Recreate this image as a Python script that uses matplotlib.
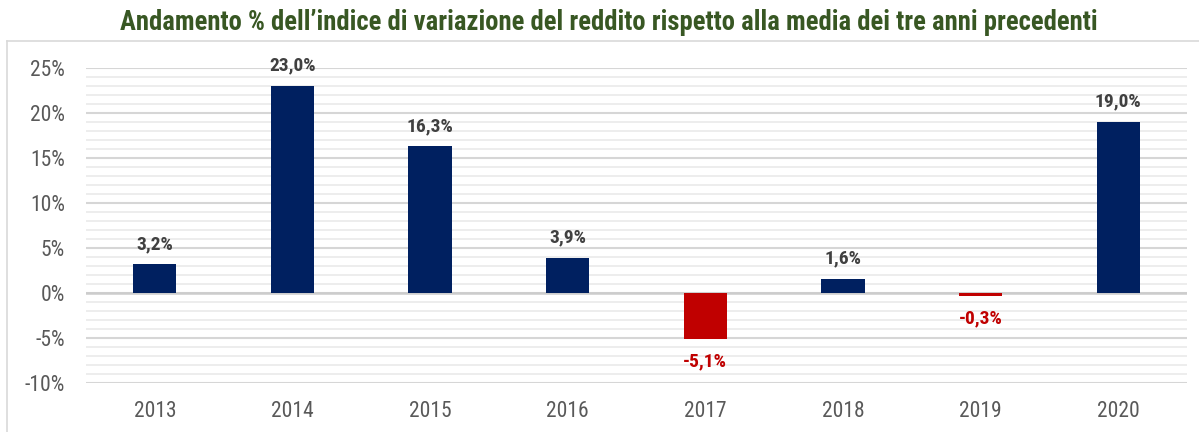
import matplotlib
matplotlib.use("Agg")
import matplotlib.pyplot as plt
from matplotlib.ticker import MultipleLocator, FuncFormatter
from matplotlib import font_manager
from matplotlib.lines import Line2D

names = {f.name for f in font_manager.fontManager.ttflist}
FONT = "Roboto Condensed" if "Roboto Condensed" in names else "DejaVu Sans"

years = ["2013", "2014", "2015", "2016", "2017", "2018", "2019", "2020"]
values = [3.2, 23.0, 16.3, 3.9, -5.1, 1.6, -0.3, 19.0]
title = "Andamento % dell\u2019indice di variazione del reddito rispetto alla media dei tre anni precedenti"

NAVY = "#002060"
RED = "#C00000"

plt.rcParams["font.family"] = [FONT, "DejaVu Sans"]

fig = plt.figure(figsize=(11.99, 4.32), dpi=100)
ax = fig.add_axes([86/1199, (432-383)/432, (1187-86)/1199, 315/432])

x = list(range(len(years)))
colors = [NAVY if v >= 0 else RED for v in values]
ax.bar(x, values, width=0.315, color=colors, zorder=3)

ax.set_xlim(-0.5, len(years)-0.5)
ax.set_ylim(-10, 25)
ax.yaxis.set_major_locator(MultipleLocator(5))
ax.yaxis.set_minor_locator(MultipleLocator(1))
ax.yaxis.set_major_formatter(FuncFormatter(lambda v, p: f"{v:.0f}%"))
ax.grid(axis="y", which="minor", color="#ececec", linewidth=1.3, zorder=0)
ax.grid(axis="y", which="major", color="#d6d6d6", linewidth=1.5, zorder=1)
ax.axhline(0, color="#cccccc", linewidth=1.8, zorder=2)
for s in ax.spines.values():
    s.set_visible(False)
ax.tick_params(axis="both", which="both", length=0, labelsize=15.5, labelcolor="#595959")
ax.tick_params(axis="y", pad=15)
ax.tick_params(axis="x", pad=13)
ax.set_xticks(x)
ax.set_xticklabels(years)

for xi, v, c in zip(x, values, colors):
    lab = f"{v:.1f}%".replace(".", ",")
    if v >= 0:
        ax.annotate(lab, (xi, v), xytext=(0, 8), textcoords="offset points",
                    ha="center", va="bottom", fontsize=14, fontweight="bold", color="#404040")
    else:
        ax.annotate(lab, (xi, v), xytext=(0, -10), textcoords="offset points",
                    ha="center", va="top", fontsize=14, fontweight="bold", color=RED)

fig.text(609/1199, 1 - 22/432, title, ha="center", va="center", fontsize=19.2,
         fontweight="bold", color="#385723")

# outer frame lines (top and left)
fig.add_artist(Line2D([7/1199, 1], [1-41/432, 1-41/432], transform=fig.transFigure,
                      color="#d9d9d9", linewidth=1.2))
fig.add_artist(Line2D([7/1199, 7/1199], [0, 1-41/432], transform=fig.transFigure,
                      color="#d9d9d9", linewidth=1.2))

fig.savefig("out.png", dpi=100)
